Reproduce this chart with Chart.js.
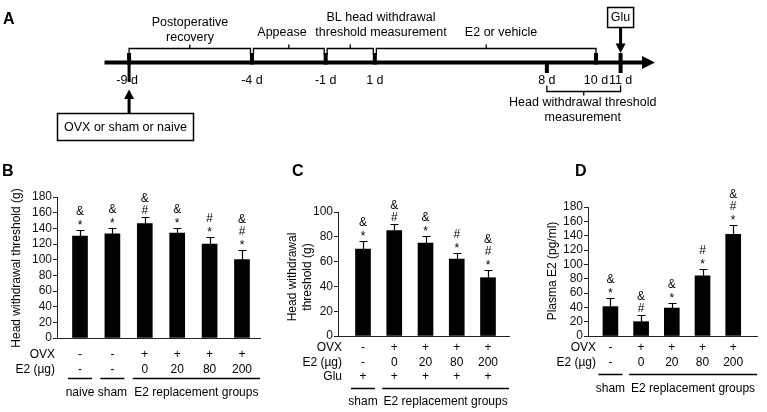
<!DOCTYPE html>
<html><head><meta charset="utf-8">
<script src="https://cdn.jsdelivr.net/npm/chart.js@4.4.1/dist/chart.umd.min.js"></script>
<style>
html,body{margin:0;padding:0;background:#fff;}
#wrap{position:relative;width:767px;height:412px;overflow:hidden;background:#fff;}
canvas{position:absolute;left:0;top:0;}
</style></head><body>
<div id="wrap">
<canvas id="cA" width="767" height="412"></canvas>
<canvas id="cB" width="767" height="412"></canvas>
<canvas id="cC" width="767" height="412"></canvas>
<canvas id="cD" width="767" height="412"></canvas>
</div>
<script>
const FONT = "'Liberation Sans', Arial, Helvetica, sans-serif";

// ---------- Panel A: timeline ----------
const timelineDays = [-9, -4, -1, 1, 8, 10, 11];
const timelineDayLabels = ['-9 d', '-4 d', '-1 d', '1 d', '8 d', '10 d', '11 d'];
const timelineMarkKinds = ['long', 'up', 'up', 'up', 'down', 'up', 'both'];
const periodStartDays = [-9, -4, -1, 1];
const periodEndDays = [-4, -1, 1, 10];
const periodLabels = [['Postoperative', 'recovery'], ['Appease'], ['BL head withdrawal', 'threshold measurement'], ['E2 or vehicle']];
const measureDays = [8, 11];
const measureLabel = ['Head withdrawal threshold', 'measurement'];
const gluDay = 11;
const gluLabel = 'Glu';
const surgeryDay = -9;
const surgeryLabel = 'OVX or sham or naive';

// ---------- Panel B ----------
const bMeans = [130, 133, 146, 134, 120, 100];
const bErrTop = [138, 140, 154, 141, 129, 112];
const bSig = ['&*', '&*', '&#', '&*', '#*', '&#*'];
const bOVX = ['-', '-', '+', '+', '+', '+'];
const bE2 = ['-', '-', '0', '20', '80', '200'];
const bGroupLabels = ['naive', 'sham', 'E2 replacement groups'];
const bGroupSpans = [[0, 0], [1, 1], [2, 5]];
const bYTicks = [0, 20, 40, 60, 80, 100, 120, 140, 160, 180];
const bYTitle = ['Head withdrawal threshold (g)'];

// ---------- Panel C ----------
const cMeans = [70, 85, 75, 62, 47];
const cErrTop = [77, 90, 81, 67, 53];
const cSig = ['&*', '&#', '&*', '#*', '&#*'];
const cOVX = ['-', '+', '+', '+', '+'];
const cE2 = ['-', '0', '20', '80', '200'];
const cGlu = ['+', '+', '+', '+', '+'];
const cGroupLabels = ['sham', 'E2 replacement groups'];
const cGroupSpans = [[0, 0], [1, 4]];
const cYTicks = [0, 20, 40, 60, 80, 100];
const cYTitle = ['Head withdrawal', 'threshold (g)'];

// ---------- Panel D ----------
const dMeans = [41, 20, 39, 84, 142];
const dErrTop = [53, 29, 46, 94, 155];
const dSig = ['&*', '&#', '&*', '#*', '&#*'];
const dOVX = ['-', '+', '+', '+', '+'];
const dE2 = ['-', '0', '20', '80', '200'];
const dGroupLabels = ['sham', 'E2 replacement groups'];
const dGroupSpans = [[0, 0], [1, 4]];
const dYTicks = [0, 20, 40, 60, 80, 100, 120, 140, 160, 180];
const dYTitle = ['Plasma E2 (pg/ml)'];

// ---------- layout (positions, not data) ----------
const periodLabelPos = [{x: 190, y: [23, 38]}, {x: 282, y: [33]}, {x: 381, y: [18, 33]}, {x: 501, y: [33]}];
const markExtent = {long: [-9.5, 19.5], up: [-9.5, 2], down: [-1.5, 10.5], both: [-9.5, 10.5]};

function txt(ctx, s, x, y, align, size, bold) {
  ctx.font = (bold ? 'bold ' : '') + size + 'px ' + FONT;
  ctx.textAlign = align || 'center';
  ctx.textBaseline = 'middle';
  ctx.fillText(s, x, y);
}

const timelinePlugin = {
  id: 'timeline',
  afterDraw(chart) {
    const {ctx, chartArea} = chart;
    const xs = chart.scales.x;
    const X = d => xs.getPixelForValue(d);
    const yl = chartArea.bottom;
    ctx.save();
    ctx.fillStyle = '#000';
    ctx.strokeStyle = '#000';
    // main line + arrow
    const tip = chartArea.right;
    ctx.fillRect(chartArea.left, yl - 2, tip - 12 - chartArea.left, 4);
    ctx.beginPath();
    ctx.moveTo(tip - 13, yl - 6.5); ctx.lineTo(tip, yl); ctx.lineTo(tip - 13, yl + 6.5); ctx.closePath(); ctx.fill();
    // day labels
    const meta = chart.getDatasetMeta(0);
    meta.data.forEach((pt, i) => {
      const shift = timelineMarkKinds[i] === 'long' ? -2 : 0;
      txt(ctx, timelineDayLabels[i], pt.x + shift, 81, 'center', 12.5);
    });
    // marks
    meta.data.forEach((pt, i) => {
      const e = markExtent[timelineMarkKinds[i]];
      if (timelineMarkKinds[i] === 'long') {
        ctx.fillRect(pt.x - 2, yl + e[0], 4, 12);
        ctx.fillRect(pt.x - 1.5, yl + e[0] + 12, 3, e[1] - e[0] - 12);
      } else {
        ctx.fillRect(pt.x - 2, yl + e[0], 4, e[1] - e[0]);
      }
    });
    // brackets above
    ctx.lineWidth = 1.3;
    periodStartDays.forEach((s, i) => {
      const x1 = X(s) + (i > 0 ? 1.5 : 0);
      const x2 = X(periodEndDays[i]) - (i < periodStartDays.length - 1 ? 1.5 : 0);
      const yb = 48.5, ye = 55, yn = 44.5;
      ctx.beginPath();
      ctx.moveTo(x1, ye); ctx.lineTo(x1, yb); ctx.lineTo(x2, yb); ctx.lineTo(x2, ye);
      const xm = (x1 + x2) / 2;
      ctx.moveTo(xm, yb); ctx.lineTo(xm, yn);
      ctx.stroke();
      const lp = periodLabelPos[i];
      periodLabels[i].forEach((l, k) => txt(ctx, l, lp.x, lp.y[k], 'center', 12.5));
    });
    // measurement bracket below
    {
      const x1 = X(measureDays[0]), x2 = X(measureDays[1]);
      const yb = 91.5, ye = 85.5, yn = 95.5;
      ctx.beginPath();
      ctx.moveTo(x1, ye); ctx.lineTo(x1, yb); ctx.lineTo(x2, yb); ctx.lineTo(x2, ye);
      const xm = (x1 + x2) / 2;
      ctx.moveTo(xm, yb); ctx.lineTo(xm, yn);
      ctx.stroke();
      txt(ctx, measureLabel[0], xm - 1, 103, 'center', 12.5);
      txt(ctx, measureLabel[1], xm - 1, 117.5, 'center', 12.5);
    }
    // Glu box + arrow
    {
      const xg = X(gluDay);
      ctx.lineWidth = 1.5;
      ctx.strokeRect(xg - 13, 7.5, 26, 20);
      txt(ctx, gluLabel, xg, 17.5, 'center', 12.5);
      ctx.fillRect(xg - 1.5, 27.5, 3, 17);
      ctx.beginPath();
      ctx.moveTo(xg - 5, 43.5); ctx.lineTo(xg + 5, 43.5); ctx.lineTo(xg, 53); ctx.closePath(); ctx.fill();
    }
    // Surgery arrow + box
    {
      const xs9 = X(surgeryDay);
      ctx.beginPath();
      ctx.moveTo(xs9 - 5, 99); ctx.lineTo(xs9 + 5, 99); ctx.lineTo(xs9, 89.5); ctx.closePath(); ctx.fill();
      ctx.fillRect(xs9 - 1.5, 98.5, 3, 15);
      ctx.lineWidth = 1.5;
      ctx.strokeRect(57.5, 113.5, 136, 27);
      txt(ctx, surgeryLabel, 125.5, 127.5, 'center', 12.5);
    }
    // panel letter
    ctx.font = 'bold 16px ' + FONT;
    ctx.textAlign = 'left'; ctx.textBaseline = 'alphabetic';
    ctx.fillText('A', 3, 24);
    ctx.restore();
  }
};

new Chart(document.getElementById('cA'), {
  type: 'scatter',
  data: {datasets: [{data: timelineDays.map(d => ({x: d, y: 0})), pointRadius: 0}]},
  options: {
    responsive: false, animation: false, events: [],
    layout: {padding: {left: 104.5, right: 112, top: 40, bottom: 349.5}},
    plugins: {legend: {display: false}, tooltip: {enabled: false}},
    scales: {
      x: {type: 'linear', min: -10, max: 12.4, display: false},
      y: {type: 'linear', min: -1, max: 1, display: false}
    }
  },
  plugins: [timelinePlugin]
});

function annotPlugin(p) {
  return {
    id: 'annot' + p.letter,
    afterDatasetsDraw(chart) {
      const {ctx, chartArea} = chart;
      const xs = chart.scales.x, ys = chart.scales.y;
      const meta = chart.getDatasetMeta(0);
      ctx.save();
      ctx.fillStyle = '#000';
      ctx.strokeStyle = '#000';
      // error bars + significance symbols
      meta.data.forEach((bar, i) => {
        const x = Math.round(bar.x) + 0.5;
        const ye = Math.round(ys.getPixelForValue(p.errs[i])) + 0.5;
        ctx.lineWidth = 1.2;
        ctx.beginPath();
        ctx.moveTo(x, bar.y); ctx.lineTo(x, ye);
        ctx.moveTo(x - 4, ye); ctx.lineTo(x + 4, ye);
        ctx.stroke();
        ctx.font = '12px ' + FONT;
        ctx.textAlign = 'center'; ctx.textBaseline = 'alphabetic';
        p.sig[i].split('').reverse().forEach((s, k) => {
          const m = ctx.measureText(s);
          const cy = ye - 8 - 12 * k;
          ctx.fillText(s, bar.x, cy + (m.actualBoundingBoxAscent - m.actualBoundingBoxDescent) / 2);
        });
      });
      // rows under axis
      p.rows.forEach(r => {
        txt(ctx, r.title, p.rowTitleRight, r.y, 'right', 12);
        r.values.forEach((v, i) => txt(ctx, v, xs.getPixelForValue(i), r.y, 'center', 12));
      });
      // groups
      const n = p.means.length;
      ctx.lineWidth = 1.5;
      p.groupSpans.forEach((g, k) => {
        const x1 = xs.getPixelForValue(g[0]) - 12;
        const x2 = g[1] === n - 1 && g[0] !== g[1] ? chartArea.right : xs.getPixelForValue(g[1]) + 12;
        ctx.beginPath(); ctx.moveTo(x1, p.groupLineY); ctx.lineTo(x2, p.groupLineY); ctx.stroke();
        txt(ctx, p.groupLabels[k], (x1 + x2) / 2, p.groupLabelY, 'center', 12);
      });
      // y title
      p.yTitle.forEach((line, k) => {
        ctx.save();
        ctx.translate(p.yTitleX[k], p.yTitleY);
        ctx.rotate(-Math.PI / 2);
        txt(ctx, line, 0, 0, 'center', 12);
        ctx.restore();
      });
      // letter
      ctx.font = 'bold 16px ' + FONT;
      ctx.textAlign = 'left'; ctx.textBaseline = 'alphabetic';
      ctx.fillText(p.letter, p.letterX, 176);
      ctx.restore();
    }
  };
}

function panelChart(id, p) {
  const W = 40;
  return new Chart(document.getElementById(id), {
    type: 'bar',
    data: {datasets: [{data: p.means.map((v, i) => ({x: i, y: v})), backgroundColor: '#000', borderWidth: 0, barThickness: 15}]},
    options: {
      responsive: false, animation: false, events: [],
      layout: {padding: {left: p.area.l - W, right: 767 - p.area.r, top: p.area.t, bottom: 412 - p.area.b}},
      plugins: {legend: {display: false}, tooltip: {enabled: false}},
      scales: {
        x: {
          type: 'linear', min: p.xMin, max: p.xMax, offset: false,
          ticks: {display: false}, grid: {display: false},
          border: {display: true, color: '#222', width: 1},
          afterFit: s => { s.height = 0; }
        },
        y: {
          type: 'linear', min: 0, max: p.yTicks[p.yTicks.length - 1],
          afterBuildTicks: s => { s.ticks = p.yTicks.map(v => ({value: v})); },
          afterFit: s => { s.width = W; },
          ticks: {autoSkip: false, padding: 1, color: '#111', font: {family: FONT, size: 12}},
          grid: {display: true, drawOnChartArea: false, drawTicks: true, tickLength: 4, color: '#222', tickColor: '#222'},
          border: {display: true, color: '#222', width: 1}
        }
      }
    },
    plugins: [annotPlugin(p)]
  });
}

panelChart('cB', {
  letter: 'B', letterX: 2,
  area: {l: 57, r: 260, t: 197, b: 338}, xMin: -0.71, xMax: 5.556,
  means: bMeans, errs: bErrTop, sig: bSig, yTicks: bYTicks,
  rows: [{title: 'OVX', values: bOVX, y: 354.5}, {title: 'E2 (µg)', values: bE2, y: 370}],
  rowTitleRight: 55,
  groupLabels: bGroupLabels, groupSpans: bGroupSpans, groupLineY: 378.5, groupLabelY: 393,
  yTitle: bYTitle, yTitleX: [17], yTitleY: 268
});

panelChart('cC', {
  letter: 'C', letterX: 292,
  area: {l: 338, r: 509, t: 212, b: 336}, xMin: -0.8, xMax: 4.672,
  means: cMeans, errs: cErrTop, sig: cSig, yTicks: cYTicks,
  rows: [{title: 'OVX', values: cOVX, y: 348}, {title: 'E2 (µg)', values: cE2, y: 363}, {title: 'Glu', values: cGlu, y: 377}],
  rowTitleRight: 342,
  groupLabels: cGroupLabels, groupSpans: cGroupSpans, groupLineY: 388.5, groupLabelY: 402,
  yTitle: cYTitle, yTitleX: [293, 308], yTitleY: 277
});

panelChart('cD', {
  letter: 'D', letterX: 575,
  area: {l: 588, r: 757, t: 207, b: 336}, xMin: -0.73, xMax: 4.775,
  means: dMeans, errs: dErrTop, sig: dSig, yTicks: dYTicks,
  rows: [{title: 'OVX', values: dOVX, y: 348}, {title: 'E2 (µg)', values: dE2, y: 363}],
  rowTitleRight: 596,
  groupLabels: dGroupLabels, groupSpans: dGroupSpans, groupLineY: 374.5, groupLabelY: 389,
  yTitle: dYTitle, yTitleX: [553], yTitleY: 271
});
</script>
</body></html>
